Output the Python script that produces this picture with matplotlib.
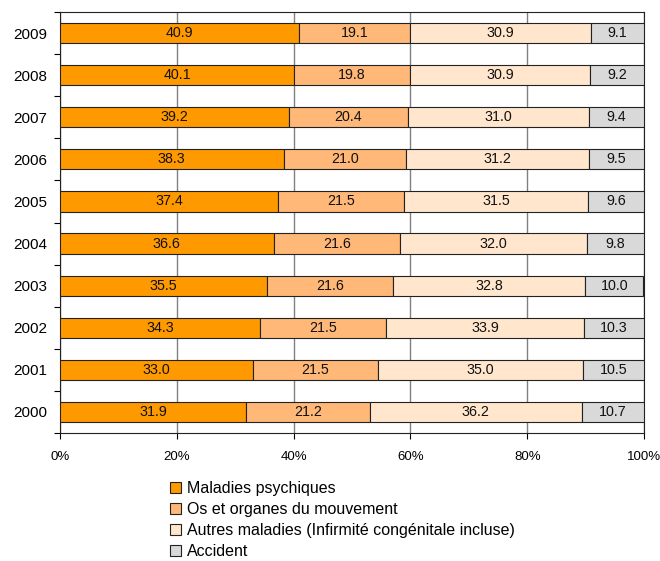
import numpy as np
import matplotlib
matplotlib.use("Agg")
import matplotlib.pyplot as plt
from matplotlib.patches import Patch

years = ["2000", "2001", "2002", "2003", "2004", "2005", "2006", "2007", "2008", "2009"]
psychiques = [31.9, 33.0, 34.3, 35.5, 36.6, 37.4, 38.3, 39.2, 40.1, 40.9]
os_organes = [21.2, 21.5, 21.5, 21.6, 21.6, 21.5, 21.0, 20.4, 19.8, 19.1]
autres = [36.2, 35.0, 33.9, 32.8, 32.0, 31.5, 31.2, 31.0, 30.9, 30.9]
accident = [10.7, 10.5, 10.3, 10.0, 9.8, 9.6, 9.5, 9.4, 9.2, 9.1]

series = [psychiques, os_organes, autres, accident]
labels = ["Maladies psychiques", "Os et organes du mouvement",
          "Autres maladies (Infirmité congénitale incluse)", "Accident"]
colors = ["#FF9900", "#FFB877", "#FFE6CC", "#D9D9D9"]

plt.rcParams['font.family'] = ['Liberation Sans', 'DejaVu Sans']

fig = plt.figure(figsize=(6.6, 5.61), dpi=100)
ax = fig.add_axes([60 / 660, 1 - 433 / 561, 584 / 660, 421 / 561])

y = np.arange(len(years))
left = np.zeros(len(years))
for vals, col in zip(series, colors):
    vals = np.array(vals)
    ax.barh(y, vals, left=left, height=0.48, color=col, edgecolor="#222222", linewidth=0.8, zorder=3)
    for yi, l, v in zip(y, left, vals):
        ax.text(l + v / 2, yi, "%.1f" % v, ha="center", va="center", fontsize=10.3, color="#111111", zorder=4)
    left += vals

ax.set_xlim(0, 100)
ax.set_ylim(-0.5, len(years) - 0.5)
ax.set_xticks(np.arange(0, 101, 20))
ax.set_xticklabels(["%d%%" % v for v in range(0, 101, 20)], fontsize=9.5)
ax.set_yticks(y)
ax.set_yticklabels(years, fontsize=11)
ax.set_yticks(np.arange(-0.5, len(years), 1), minor=True)
ax.tick_params(axis="y", which="major", length=0, pad=9.5)
ax.tick_params(axis="y", which="minor", length=4, width=0.8)
ax.tick_params(axis="x", length=4, width=0.8, pad=9)
ax.grid(axis="x", color="#808080", linewidth=1.0, zorder=0)
for s in ax.spines.values():
    s.set_linewidth(0.8)
    s.set_color("#222222")

handles = [Patch(facecolor=c, edgecolor="#222222", linewidth=0.8) for c in colors]
fig.legend(handles, labels, loc="upper left", bbox_to_anchor=(170 / 660, 1 - 481 / 561),
           frameon=False, fontsize=11.5, handlelength=0.7, handleheight=0.7,
           handletextpad=0.35, labelspacing=0.37, borderaxespad=0, borderpad=0)

fig.savefig("out.png", dpi=100)
